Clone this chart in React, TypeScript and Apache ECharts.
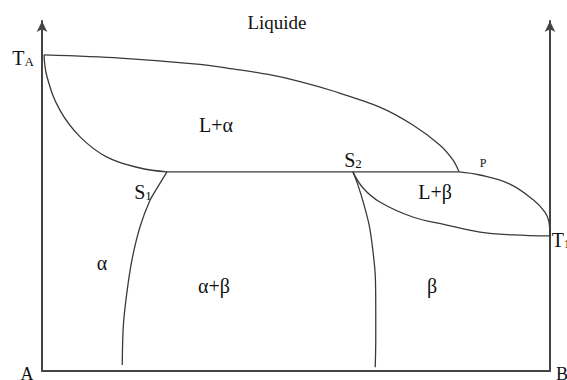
import React, { useEffect, useRef } from "react";
import * as echarts from "echarts";

// Composition (% B) and temperature (arbitrary units, 0 = bottom axis)
const liquidusLeft: number[][] = [
  [0.4, 90.3], [15.4, 89.4], [31.1, 87.6], [37.6, 86.3], [44.3, 84.8],
  [50.8, 82.7], [57.3, 80.0], [66.5, 75.4], [73.0, 70.3], [78.3, 64.6],
  [80.9, 60.3], [82.1, 56.9],
];
const solidusLeft: number[][] = [
  [0.4, 90.3], [1.0, 84.0], [3.5, 74.6], [7.5, 66.9], [12.8, 61.1],
  [19.3, 58.0], [24.6, 56.9],
];
const eutecticLine: number[][] = [[24.6, 56.9], [82.1, 56.9]];
const liquidusRight: number[][] = [
  [82.1, 56.9], [86.2, 56.0], [92.1, 53.4], [96.7, 48.9], [99.0, 45.4],
  [99.8, 42.6], [100, 38.6],
];
const solidusRight: number[][] = [
  [61.2, 56.9], [63.2, 52.3], [66.5, 48.3], [73.0, 44.0], [79.7, 41.7],
  [86.2, 39.7], [92.7, 38.9], [100, 38.6],
];
const solvusLeft: number[][] = [
  [24.6, 56.9], [22.8, 52.6], [21.3, 48.9], [19.3, 41.2], [17.7, 31.7],
  [16.7, 22.3], [16.0, 12.7], [15.8, 1.7],
];
const solvusRight: number[][] = [
  [61.2, 56.9], [62.2, 53.1], [63.4, 47.4], [64.4, 41.7], [65.0, 36.0],
  [65.6, 27.4], [65.7, 17.4], [65.7, 8.9], [65.6, 1.1],
];

const lineColor = "#3a3a3a";
const serif = "'Liberation Serif', 'DejaVu Serif', 'Times New Roman', serif";

export default function App() {
  const ref = useRef<HTMLDivElement>(null);
  useEffect(() => {
    document.body.style.margin = "0";
    const chart = echarts.init(ref.current!, undefined, { renderer: "svg" });
    const curve = (name: string, data: number[][], smooth: boolean | number) => ({
      name,
      type: "line",
      data,
      smooth,
      showSymbol: false,
      silent: true,
      lineStyle: { color: lineColor, width: 1.3 },
    });
    const txt = (x: number, y: number, text: string, size = 20, rich?: any) => ({
      type: "text",
      x,
      y,
      style: {
        text,
        fontFamily: serif,
        fontSize: size,
        fill: "#111",
        align: "center",
        verticalAlign: "middle",
        rich,
      },
    });
    const sub = {
      m: { fontFamily: serif, fontSize: 20, fill: "#111" },
      s: { fontFamily: serif, fontSize: 13, fill: "#111", padding: [7, 0, 0, 0] },
    };
    const axisStyle = { color: "#444", width: 2 };
    chart.setOption({
      animation: false,
      textStyle: { fontFamily: serif },
      grid: { left: 42, right: 17, top: 21, bottom: 9 },
      xAxis: {
        type: "value",
        min: 0,
        max: 100,
        axisLine: { show: true, onZero: false, lineStyle: axisStyle },
        axisTick: { show: false },
        axisLabel: { show: false },
        splitLine: { show: false },
      },
      yAxis: [
        {
          type: "value",
          min: 0,
          max: 100,
          position: "left",
          axisLine: { show: true, symbol: ["none", "arrow"], symbolSize: [8, 11], lineStyle: axisStyle },
          axisTick: { show: false },
          axisLabel: { show: false },
          splitLine: { show: false },
        },
        {
          type: "value",
          min: 0,
          max: 100,
          position: "right",
          axisLine: { show: true, symbol: ["none", "arrow"], symbolSize: [8, 11], lineStyle: axisStyle },
          axisTick: { show: false },
          axisLabel: { show: false },
          splitLine: { show: false },
        },
      ],
      series: [
        curve("liquidusLeft", liquidusLeft, 0.3),
        curve("solidusLeft", solidusLeft, 0.4),
        curve("eutectic", eutecticLine, false),
        curve("liquidusRight", liquidusRight, 0.4),
        curve("solidusRight", solidusRight, 0.4),
        curve("solvusLeft", solvusLeft, 0.3),
        curve("solvusRight", solvusRight, 0.3),
      ],
      graphic: [
        txt(277, 22, "Liquide", 19),
        txt(23, 58, "{m|T}{s|A}", 20, sub),
        txt(216, 125, "L+α", 20),
        txt(353, 160, "{m|S}{s|2}", 20, sub),
        txt(483, 163, "P", 12),
        txt(435, 192, "L+β", 20),
        txt(143, 192, "{m|S}{s|1}", 20, sub),
        txt(561, 240, "{m|T}{s|1}", 20, sub),
        txt(102, 263, "α", 20),
        txt(214, 286, "α+β", 20),
        txt(432, 286, "β", 20),
        txt(27, 374, "A", 18),
        txt(562, 374, "B", 18),
      ],
    });
    return () => chart.dispose();
  }, []);
  return <div ref={ref} style={{ width: 567, height: 380 }} />;
}
